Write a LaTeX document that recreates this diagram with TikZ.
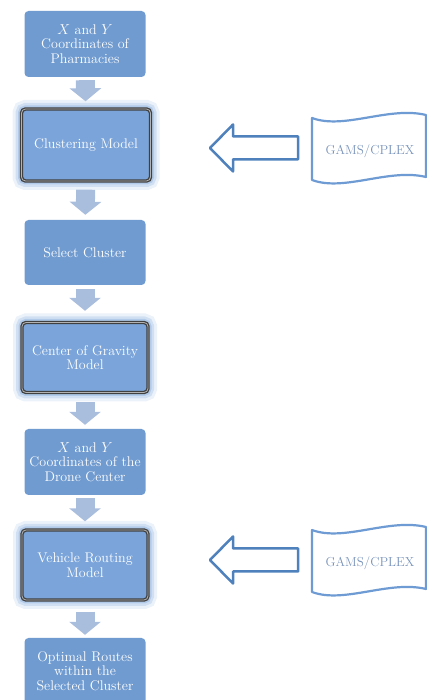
\documentclass[tikz,border=0pt]{standalone}
\usetikzlibrary{arrows.meta,calc}

\definecolor{cajaazul}{HTML}{709BD0}
\definecolor{modeloazul}{HTML}{7BA5DA}
\definecolor{brillo}{HTML}{9DBCE3}
\definecolor{flechaazul}{HTML}{A9BDDD}
\definecolor{enlace}{HTML}{4F81BD}
\definecolor{ondaazul}{HTML}{6E9BD3}
\definecolor{gamstexto}{HTML}{7893BA}

\begin{document}
\begin{tikzpicture}[x=1pt,y=1pt,
    caja/.style={fill=cajaazul, rounded corners=4pt, minimum width=121pt,
        minimum height=66pt, inner sep=2pt, text=white, align=center,
        font=\fontsize{14}{14.5}\selectfont},
    modelo/.style={caja, fill=modeloazul, minimum width=126pt, minimum height=70pt,
        draw=black!75, line width=3.4pt,
        preaction={draw=brillo, line width=18pt, opacity=0.2},
        preaction={draw=brillo, line width=12pt, opacity=0.35},
        preaction={draw=brillo, line width=7pt, opacity=0.6},
        postaction={draw=gray!60, line width=0.8pt}},
    flujo/.style={draw=flechaazul, line width=19pt, -{Triangle[length=13pt,width=31pt]}},
    entrada/.style={draw=enlace, line width=2.5pt, fill=white, line join=round},
    onda/.style={draw=ondaazul, line width=2.2pt, line join=round},
    gams/.style={text=gamstexto, font=\fontsize{13}{15}\selectfont}]

    \useasboundingbox (0,0) rectangle (427,700);

    % Cajas
    \node[caja] (b1) at (85,656) {$X$ and $Y$\\Coordinates of\\Pharmacies};
    \node[modelo, minimum width=129pt, minimum height=72pt] (b2) at (86,555) {Clustering Model};
    \node[caja, minimum height=65pt] (b3) at (85,447.5) {Select Cluster};
    \node[modelo] (b4) at (85,342.5) {Center of Gravity\\Model};
    \node[caja] (b5) at (85,238) {$X$ and $Y$\\Coordinates of the\\Drone Center};
    \node[modelo] (b6) at (85,135) {Vehicle Routing\\Model};
    \node[caja] (b7) at (85,29) {Optimal Routes\\within the\\Selected Cluster};

    % Flechas
    \foreach \a/\b/\s/\e in {b1/b2/3pt/6pt, b2/b3/7pt/5pt, b3/b4/4pt/10pt,
                             b4/b5/8pt/4pt, b5/b6/3pt/7pt, b6/b7/10pt/3pt}
        \draw[flujo, shorten <=\s, shorten >=\e] (\a) -- (\b);

    % GAMS/CPLEX
    \node[gams] (g1) at (370,549) {GAMS/CPLEX};
    \node[gams] (g2) at (370,137) {GAMS/CPLEX};

    \foreach \g in {g1,g2} {
        \draw[onda, shift={(\g.center)}] (-58,33) .. controls (-26,21) and (19,45) .. (56,36)
            -- (56,-26) .. controls (19,-17) and (-26,-41) .. (-58,-29) -- cycle;
        \draw[entrada] ($(\g)+(-72,3)$) -- ++(0,11.5) -- ++(-65,0) -- ++(0,12)
            -- ++(-23,-23.5) -- ++(23,-23.5) -- ++(0,12) -- ++(65,0) -- cycle;
    }
\end{tikzpicture}
\end{document}
